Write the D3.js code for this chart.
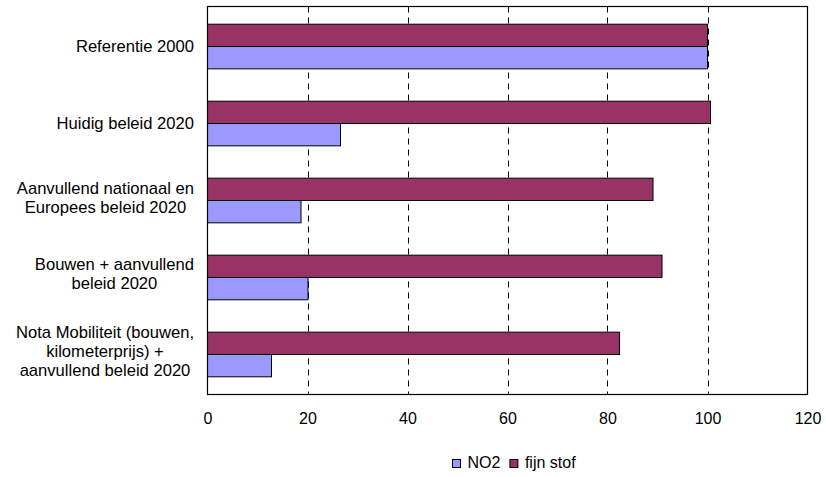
<!DOCTYPE html>
<html>
<head>
<meta charset="utf-8">
<script src="https://cdn.jsdelivr.net/npm/d3@7"></script>
<style>
  body { margin: 0; background: #fff; }
  svg { display: block; font-family: "Liberation Sans", Arial, sans-serif; }
</style>
</head>
<body>
<svg id="chart" width="826" height="477"></svg>
<script>
// Scenarios (top to bottom) and index values (Referentie 2000 = 100)
const categories = [
  "Referentie 2000",
  "Huidig beleid 2020",
  "Aanvullend nationaal en Europees beleid 2020",
  "Bouwen + aanvullend beleid 2020",
  "Nota Mobiliteit (bouwen, kilometerprijs) + aanvullend beleid 2020"
];
const categoryLines = [
  ["Referentie 2000"],
  ["Huidig beleid 2020"],
  ["Aanvullend nationaal en", "Europees beleid 2020"],
  ["Bouwen + aanvullend", "beleid 2020"],
  ["Nota Mobiliteit (bouwen,", "kilometerprijs) +", "aanvullend beleid 2020"]
];
const seriesNames = ["fijn stof", "NO2"];
const no2 = [100, 26.6, 18.7, 20.1, 12.8];
const fijnStof = [100, 100.6, 89.1, 90.9, 82.4];
const xTicks = [0, 20, 40, 60, 80, 100, 120];
const legendItems = ["NO2", "fijn stof"];

const colors = { "NO2": "#9999FF", "fijn stof": "#993366" };

const svg = d3.select("#chart");
const plot = { left: 207.5, right: 807.5, top: 6.5, bottom: 394.5 };
const fontSize = 16;
const labelFontSize = 16.6;

const x = d3.scaleLinear().domain([0, 120]).range([plot.left, plot.right]);
const y0 = d3.scaleBand().domain(categories).range([plot.top, plot.bottom])
  .paddingInner(0.42).paddingOuter(0.23);
const y1 = d3.scaleBand().domain(seriesNames).range([0, y0.bandwidth()]);

// dashed vertical gridlines
svg.append("g").selectAll("line")
  .data(xTicks.filter(t => t > 0 && t < 120))
  .join("line")
  .attr("x1", d => Math.round(x(d)) + 0.5).attr("x2", d => Math.round(x(d)) + 0.5)
  .attr("y1", plot.top).attr("y2", plot.bottom)
  .attr("stroke", "#000").attr("stroke-width", 1)
  .attr("stroke-dasharray", "6,5");

// bars
const rows = categories.map((c, i) => ({ cat: c, values: [
  { key: "fijn stof", v: fijnStof[i] },
  { key: "NO2", v: no2[i] }
]}));

const g = svg.append("g").selectAll("g").data(rows).join("g")
  .attr("transform", d => `translate(0,${y0(d.cat)})`);
g.selectAll("rect").data(d => d.values).join("rect")
  .attr("x", x(0))
  .attr("y", d => y1(d.key))
  .attr("width", d => x(d.v) - x(0))
  .attr("height", y1.bandwidth())
  .attr("fill", d => colors[d.key])
  .attr("stroke", "#000").attr("stroke-width", 1);

// plot frame
svg.append("rect")
  .attr("x", plot.left).attr("y", plot.top)
  .attr("width", plot.right - plot.left).attr("height", plot.bottom - plot.top)
  .attr("fill", "none").attr("stroke", "#000").attr("stroke-width", 1.2);

// x axis tick labels
const xAxis = d3.axisBottom(x).tickValues(xTicks).tickSize(0).tickPadding(0);
const ax = svg.append("g").attr("transform", `translate(0,${plot.bottom})`).call(xAxis);
ax.select(".domain").remove();
ax.selectAll("text").attr("font-size", fontSize).attr("fill", "#000")
  .attr("font-family", "Liberation Sans, Arial, sans-serif")
  .attr("dy", null).attr("y", 29.5);

// category labels: multi-line, centred per label, block right-aligned
const lineH = 19;
categories.forEach((c, i) => {
  const lines = categoryLines[i];
  const cy = y0(c) + y0.bandwidth() / 2;
  const off = lines.length === 1 ? 5.7 : 2.5;
  const t = svg.append("text")
    .attr("font-size", labelFontSize).attr("fill", "#000")
    .attr("text-anchor", "middle");
  lines.forEach((ln, j) => {
    t.append("tspan").attr("x", 0)
      .attr("y", cy + (j - (lines.length - 1) / 2) * lineH + off)
      .text(ln);
  });
  let maxW = 0;
  t.selectAll("tspan").each(function () {
    maxW = Math.max(maxW, this.getComputedTextLength());
  });
  t.selectAll("tspan").attr("x", 194 - maxW / 2);
});

// legend
const legend = svg.append("g").attr("transform", "translate(452,459)");
let lx = 0;
legendItems.forEach(name => {
  const item = legend.append("g").attr("transform", `translate(${lx},0)`);
  item.append("rect").attr("x", 0.5).attr("y", 0.5).attr("width", 8).attr("height", 8)
    .attr("fill", colors[name]).attr("stroke", "#000").attr("stroke-width", 1);
  const txt = item.append("text").attr("x", 15.5).attr("y", 9)
    .attr("font-size", fontSize).attr("fill", "#000").text(name);
  lx += 15.5 + txt.node().getComputedTextLength() + 9;
});
</script>
</body>
</html>
